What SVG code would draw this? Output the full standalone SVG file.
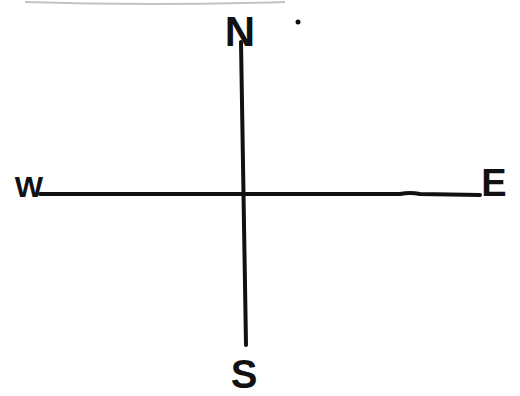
<svg xmlns="http://www.w3.org/2000/svg" width="520" height="396" viewBox="0 0 520 396">
<style>
.lbl{font-family:"Liberation Sans",Arial,sans-serif;font-weight:bold;fill:#111;text-anchor:middle}
.ax{stroke:#111;stroke-width:4;stroke-linecap:round;fill:none}
</style>
<rect width="520" height="396" fill="#fff"/>
<path d="M25 2 Q150 6 285 2" stroke="#999" stroke-width="2" fill="none" opacity="0.6"/>
<g id="connectors">
<path class="ax" d="M241 42 L246 345"/>
<path class="ax" d="M40 194 L400 194 Q410 192 420 194 L480 195"/>
</g>
<g id="north"><text class="lbl" x="240" y="46" font-size="42">N</text></g>
<g id="west"><text class="lbl" x="29" y="197" font-size="30">W</text></g>
<g id="east"><text class="lbl" x="494" y="196" font-size="38">E</text></g>
<g id="south"><text class="lbl" x="244" y="388" font-size="40">S</text></g>
<circle cx="298" cy="22" r="2.5" fill="#111"/>
</svg>
